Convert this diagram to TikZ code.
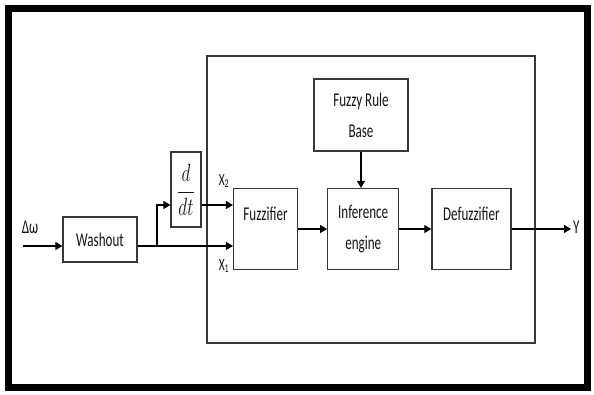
\documentclass[tikz,border=0pt]{standalone}
\usepackage{fontspec}
\setmainfont{Carlito}[FakeStretch=0.67]
\usepackage{graphicx}
\usetikzlibrary{positioning,arrows.meta}
\definecolor{LineGray}{RGB}{55,55,55}
\definecolor{DarkText}{RGB}{20,20,20}

\begin{document}
\begin{tikzpicture}[x=1pt, y=-1pt,
    block/.style={rectangle, draw=LineGray, line width=1.2pt, inner sep=0pt,
        minimum width=64pt, minimum height=81pt, align=center,
        font=\fontsize{19.5}{31}\selectfont, text=DarkText},
    sig/.style={draw=black, line width=1.2pt, -{Triangle[length=7pt,width=8pt]}},
    lbl/.style={inner sep=0pt, font=\fontsize{19.5}{31}\selectfont, text=DarkText},
]
\useasboundingbox (0,0) rectangle (594,394);
\draw[line width=7pt] (8.5,8.5) rectangle (587,387);

% controller box
\node[rectangle, draw=LineGray, line width=1.2pt, minimum width=328pt, minimum height=287pt] (flc) at (371,199.5) {};

\node[block] (fuzz) at (265.5,229) {Fuzzifier\\~};
\node[block, minimum width=71pt, right=29pt of fuzz] (infer) {Inference\\engine};
\node[block, minimum width=79pt, right=32pt of infer] (defuzz) {Defuzzifier\\~};
\node[block, minimum width=94pt, minimum height=72pt] (rule) at (361,115) {Fuzzy Rule\\Base};

\node[block, minimum width=74pt, minimum height=45pt] (wash) at (100,239.5) {Washout};
\node[block, minimum width=30pt, minimum height=75pt] (deriv) at (186,189.5)
    {\scalebox{0.7}[1]{\fontsize{27}{30}\selectfont$\displaystyle\frac{d}{dt}$}};

\node[lbl] (dw) at (30,227) {Δω};
\node[lbl, font=\fontsize{17}{20}\selectfont] (x2) at (224,181) {X\textsubscript{2}};
\node[lbl, font=\fontsize{17}{20}\selectfont] (x1) at (224,266) {X\textsubscript{1}};
\node[lbl, anchor=west] (y) at (573,227) {Y};

\coordinate (in) at (23,246);
\coordinate (br) at (157,246);
\coordinate (up) at (0,205);
\coordinate (out) at (571,229);

\draw[sig] (in) -- (wash.west |- in);
\draw[sig] (wash.east |- in) -- (fuzz.west |- in);
\draw[sig] (br) |- (deriv.west |- up);
\draw[sig] (deriv.east |- up) -- (fuzz.west |- up);
\draw[sig] (fuzz.east) -- (infer.west);
\draw[sig] (infer.east) -- (defuzz.west);
\draw[sig] (defuzz.east |- out) -- (out);
\draw[sig] (rule.south) -- (rule.south |- infer.north);
\end{tikzpicture}
\end{document}
